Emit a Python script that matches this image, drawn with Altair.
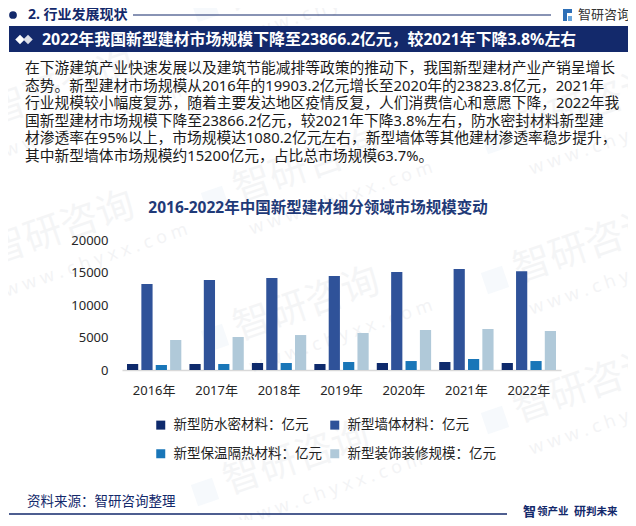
import altair as alt
import pandas as pd

# ---------------- data ----------------
years = ["2016年", "2017年", "2018年", "2019年", "2020年", "2021年", "2022年"]
series_names = ["新型防水密材料：亿元", "新型墙体材料：亿元", "新型保温隔热材料：亿元", "新型装饰装修规模：亿元"]
waterproof = [920, 920, 1080, 920, 1080, 1230, 1080]
wall = [13230, 13850, 14150, 14460, 15080, 15540, 15200]
insulation = [770, 920, 1080, 1230, 1380, 1690, 1380]
decoration = [4620, 5080, 5380, 5690, 6150, 6310, 6000]
y_ticks = [0, 5000, 10000, 15000, 20000]

header_text = "2. 行业发展现状"
logo_text = "智研咨询"
banner_text = "2022年我国新型建材市场规模下降至23866.2亿元，较2021年下降3.8%左右"
paragraph = [
    "在下游建筑产业快速发展以及建筑节能减排等政策的推动下，我国新型建材产业产销呈增长",
    "态势。新型建材市场规模从2016年的19903.2亿元增长至2020年的23823.8亿元，2021年",
    "行业规模较小幅度复苏，随着主要发达地区疫情反复，人们消费信心和意愿下降，2022年我",
    "国新型建材市场规模下降至23866.2亿元，较2021年下降3.8%左右，防水密封材料新型建",
    "材渗透率在95%以上，市场规模达1080.2亿元左右，新型墙体等其他建材渗透率稳步提升，",
    "其中新型墙体市场规模约15200亿元，占比总市场规模63.7%。",
]
chart_title = "2016-2022年中国新型建材细分领域市场规模变动"
source_text = "资料来源：智研咨询整理"
slogan_parts = ["智", "领产业", "研", "判未来"]
watermark_text = "智研咨询"
watermark_url = "w w w . c h y x x . c o m"

colors = ["#0e2a6c", "#2f5299", "#1976b8", "#b0c9d9"]
NAVY = "#13296b"
FONT = "Noto Sans, Noto Sans CJK SC"

rows = []
for i, yr in enumerate(years):
    for name, vals in zip(series_names, [waterproof, wall, insulation, decoration]):
        rows.append({"year": yr, "series": name, "value": vals[i]})
df = pd.DataFrame(rows)

# plot origin in page coordinates
PX0, PY0 = 122, 240
PW, PH = 439, 130


def X(p):
    return p - PX0


def Y(p):
    return p - PY0


dummy = alt.Data(values=[{"a": 1}])


def txt(s, x, y, size, color="#222222", weight="normal", align="left", baseline="middle",
        font=FONT, angle=0, opacity=1.0):
    return alt.Chart(dummy).mark_text(
        text=s, fontSize=size, color=color, fontWeight=weight, align=align,
        baseline=baseline, font=font, angle=angle, opacity=opacity
    ).encode(x=alt.value(X(x)), y=alt.value(Y(y)))


def rect(x1, y1, x2, y2, color, opacity=1.0):
    return alt.Chart(dummy).mark_rect(color=color, opacity=opacity).encode(
        x=alt.value(X(x1)), x2=alt.value(X(x2)), y=alt.value(Y(y1)), y2=alt.value(Y(y2))
    )


def hline(x1, x2, y, color, width=1.0):
    return alt.Chart(dummy).mark_rule(color=color, strokeWidth=width).encode(
        x=alt.value(X(x1)), x2=alt.value(X(x2)), y=alt.value(Y(y))
    )


def point(x, y, shape, size, color, opacity=1.0, angle=0):
    return alt.Chart(dummy).mark_point(shape=shape, size=size, filled=True, color=color,
                                       opacity=opacity, angle=angle).encode(
        x=alt.value(X(x)), y=alt.value(Y(y))
    )


layers = []

# very faint watermarks (drawn first, underneath everything)
WM_ANGLE = 341
wm_anchors = [(-30, 262), (-30, 122), (215, 200), (215, 338), (205, 492), (205, 8),
              (495, 140), (495, 280), (495, 420)]
for ax, ay in wm_anchors:
    layers.append(point(ax, ay, "square", 500, "#7fa7d6", opacity=0.07, angle=WM_ANGLE))
    layers.append(txt(watermark_text, ax + 20, ay - 8, 38, "#a0a6b2",
                      angle=WM_ANGLE, opacity=0.1))
    layers.append(txt(watermark_url, ax + 35, ay + 30, 18, "#a0a6b2",
                      angle=WM_ANGLE, opacity=0.12))

bars = alt.Chart(df).mark_bar().encode(
    x=alt.X(
        "year:N", sort=years,
        scale=alt.Scale(paddingInner=0.13, paddingOuter=0.08),
        axis=alt.Axis(title=None, labelAngle=0, ticks=False, domainColor="#d9d9d9",
                      domainWidth=1.5, labelPadding=14, labelFontSize=13,
                      labelColor="#262626", labelFont=FONT),
    ),
    xOffset=alt.XOffset("series:N", sort=series_names, scale=alt.Scale(paddingInner=0.22)),
    y=alt.Y(
        "value:Q", scale=alt.Scale(domain=[0, 20000]),
        axis=alt.Axis(title=None, values=y_ticks, grid=False, domain=False, ticks=False,
                      labelPadding=14, format="d", labelFontSize=13,
                      labelColor="#262626", labelFont=FONT),
    ),
    color=alt.Color(
        "series:N", sort=series_names,
        scale=alt.Scale(domain=series_names, range=colors),
        legend=alt.Legend(
            title=None, orient="none", legendX=32, legendY=178, columns=2,
            direction="horizontal",
            symbolType="square", symbolSize=81, symbolStrokeWidth=0,
            labelFontSize=13.5, labelFont=FONT, labelColor="#222222",
            labelLimit=400, labelOffset=6, rowPadding=14, columnPadding=6,
        ),
    ),
)
layers.append(bars)

# header
layers.append(point(13, 15, "circle", 60, NAVY))
layers.append(txt(header_text, 28, 15, 14, NAVY, "bold"))
layers.append(hline(133, 551, 15, NAVY, 1.2))
layers.append(rect(563, 9, 567, 21, "#2d6fb7"))
layers.append(rect(567, 9, 572, 13, "#2d6fb7"))
layers.append(rect(568, 16, 572, 21, "#6aa6dd"))
layers.append(txt(logo_text, 578, 15, 13, "#333333"))

# banner
layers.append(rect(9, 26, 628, 52, NAVY))
layers.append(point(20, 39.5, "diamond", 90, "#ffffff"))
layers.append(point(28, 39.5, "diamond", 90, "#dcdfe8"))
layers.append(txt(banner_text, 42, 39.5, 15.9, "#ffffff", "bold"))

# paragraph
for i, line in enumerate(paragraph):
    layers.append(txt(line, 25, 69 + 17.55 * i, 14.75, "#1a1a1a"))

# chart title
layers.append(txt(chart_title, 318, 208, 15.5, "#1f3a78", "bold", align="center"))

# footer
layers.append(txt(source_text, 27, 502, 13.5, NAVY))
layers.append(hline(9, 507, 514, NAVY, 1.5))
slogan_x = [523, 537, 574, 586]
slogan_size = [13, 10.5, 12, 10.5]
for s, sx, ss in zip(slogan_parts, slogan_x, slogan_size):
    layers.append(txt(s, sx, 512, ss, NAVY, "bold"))

chart = alt.layer(*layers).properties(
    width=PW, height=PH,
    padding={"left": PX0 - 8, "top": PY0 - 8, "right": 620 - (PX0 - 8) - PW, "bottom": 150},
    autosize=alt.AutoSizeParams(type="none"),
    background="#ffffff",
).configure_view(stroke=None)

chart.save("out.html", embed_options={"renderer": "svg", "actions": False})
